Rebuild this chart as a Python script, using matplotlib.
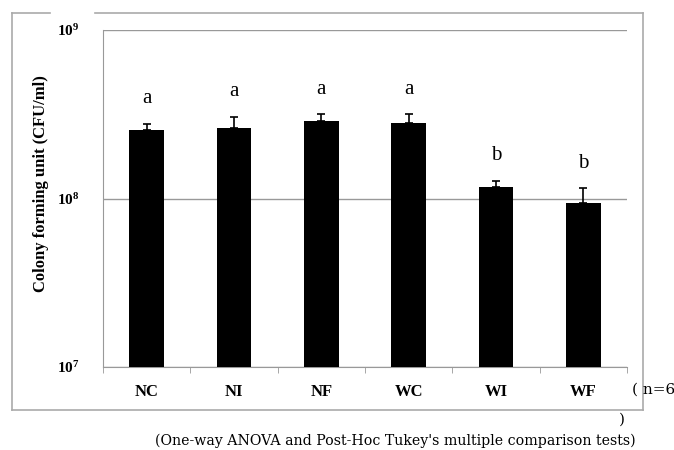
"""Colony forming units per group, log-scale bar chart with Tukey letters."""

import matplotlib

matplotlib.use("Agg")
import matplotlib.pyplot as plt
import numpy as np
from matplotlib.lines import Line2D

groups = ["NC", "NI", "NF", "WC", "WI", "WF"]
cfu_mean = [2.55e8, 2.63e8, 2.90e8, 2.82e8, 1.17e8, 9.4e7]
cfu_err = [0.22e8, 0.42e8, 0.26e8, 0.34e8, 0.10e8, 0.21e8]
tukey_letters = ["a", "a", "a", "a", "b", "b"]
y_ticks = [1e7, 1e8, 1e9]
y_tick_labels = [r"$\mathbf{10^{7}}$", r"$\mathbf{10^{8}}$", r"$\mathbf{10^{9}}$"]

plt.rcParams["mathtext.fontset"] = "custom"
plt.rcParams["mathtext.rm"] = "Liberation Serif"
plt.rcParams["mathtext.bf"] = "Liberation Serif:bold"

W, H = 674, 450
fig = plt.figure(figsize=(W / 100, H / 100), dpi=100)


def px_box(left, top, right, bottom):
    return [left / W, 1 - bottom / H, (right - left) / W, (bottom - top) / H]


ax = fig.add_axes(px_box(103, 30, 627, 367))
x = np.arange(len(groups))
ax.bar(x, cfu_mean, width=0.4, color="black", zorder=3)
ax.errorbar(x, cfu_mean, yerr=[np.zeros(len(groups)), cfu_err], fmt="none",
            ecolor="black", elinewidth=1.2, capsize=3, capthick=1.2, zorder=4)
for xi, m, e, letter in zip(x, cfu_mean, cfu_err, tukey_letters):
    ax.text(xi, (m + e) * 1.24, letter, ha="center", va="bottom",
            family="Liberation Serif", fontsize=15)

ax.set_yscale("log")
ax.set_ylim(1e7, 1e9)
ax.set_xlim(-0.5, len(groups) - 0.5)
ax.set_yticks(y_ticks)
ax.set_yticklabels(y_tick_labels, fontsize=11)
ax.yaxis.set_minor_locator(matplotlib.ticker.NullLocator())
ax.tick_params(axis="y", length=0, pad=17)
ax.set_xticks(x)
ax.set_xticklabels(groups, family="Liberation Serif", fontweight="bold", fontsize=12)
ax.set_xticks(np.arange(-0.5, len(groups)), minor=True)
ax.tick_params(axis="x", which="major", length=0, pad=12)
ax.tick_params(axis="x", which="minor", length=4, color="#999999", direction="out")
ax.grid(axis="y", which="major", color="#999999", linewidth=1, zorder=0)
for side in ["top", "right"]:
    ax.spines[side].set_visible(False)
for side in ["left", "bottom"]:
    ax.spines[side].set_color("#999999")

ax.set_ylabel("Colony forming unit (CFU/ml)", family="Liberation Serif",
              fontweight="bold", fontsize=12)
ax.yaxis.set_label_coords((49 - 103) / 524, (367 - 184) / 337)

# outer chart frame (top border has a gap near the 10^9 label)
frame = dict(color="#aaaaaa", linewidth=1.2, transform=fig.transFigure)
for xs, ys in [([12, 50], [13, 13]), ([95, 643], [13, 13]), ([643, 643], [13, 410]),
               ([643, 12], [410, 410]), ([12, 12], [410, 13])]:
    fig.add_artist(Line2D([v / W for v in xs], [1 - v / H for v in ys], **frame))

fig.text(632 / W, 1 - 390 / H, "( n=6", family="DejaVu Serif", fontsize=11, va="center")
fig.text(619 / W, 1 - 420 / H, ")", family="DejaVu Serif", fontsize=11, va="center")
fig.text(155 / W, 1 - 441 / H,
         "(One-way ANOVA and Post-Hoc Tukey's multiple comparison tests)",
         family="DejaVu Serif", fontsize=10.2, va="center")

fig.savefig("out.png", dpi=100)
